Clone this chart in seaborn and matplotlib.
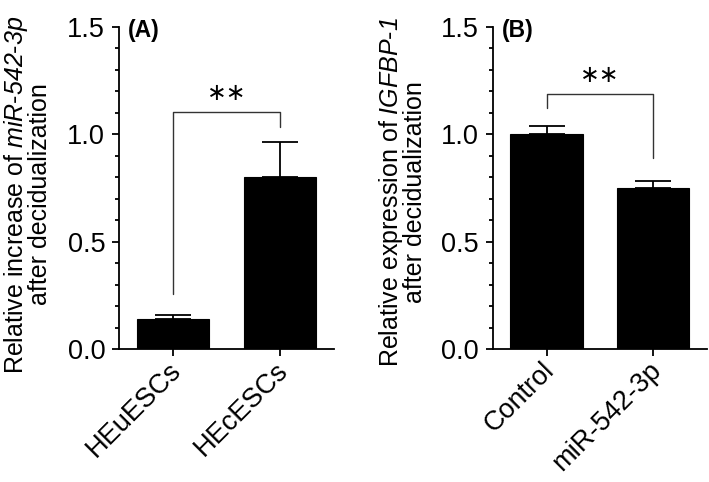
import matplotlib
matplotlib.use("Agg")
import matplotlib.pyplot as plt
import matplotlib.transforms as mtransforms
import seaborn as sns
import pandas as pd
from matplotlib.ticker import MultipleLocator

sns.set_theme(style="ticks")
plt.rcParams['font.family'] = ['Liberation Sans', 'DejaVu Sans']
plt.rcParams['mathtext.fontset'] = 'custom'
plt.rcParams['mathtext.it'] = 'Liberation Sans:italic'
plt.rcParams['mathtext.rm'] = 'Liberation Sans:italic'
for k in ['text.color', 'axes.labelcolor', 'xtick.color', 'ytick.color', 'axes.edgecolor']:
    plt.rcParams[k] = 'black'

# Data
cats_a = ["HEuESCs", "HEcESCs"]
vals_a = [0.138, 0.80]
err_a = [0.020, 0.162]
cats_b = ["Control", "miR-542-3p"]
vals_b = [1.0, 0.748]
err_b = [0.040, 0.034]
yticks = [0.0, 0.5, 1.0, 1.5]

fig = plt.figure(figsize=(7.09, 4.82), dpi=100)
ax_a = fig.add_axes([0.168, 0.276, 0.303, 0.668])
ax_b = fig.add_axes([0.695, 0.276, 0.302, 0.668])

FS = 19.5
LFS = 18
LW = 1.3

def panel(ax, cats, vals, errs, letter, ylabel, lab_xy, bracket, star_y):
    df = pd.DataFrame({"cat": cats, "val": vals})
    sns.barplot(data=df, x="cat", y="val", ax=ax, color="black",
                width=0.68, errorbar=None, saturation=1,
                edgecolor="black", linewidth=0.8)
    ax.errorbar(range(len(cats)), vals, yerr=[[0] * len(vals), errs],
                fmt="none", ecolor="black", elinewidth=LW, capsize=13,
                capthick=LW)
    ax.set_ylim(0, 1.5)
    ax.set_xlim(-0.505, 1.505)
    ax.set_yticks(yticks)
    ax.set_yticklabels([f"{t:.1f}" for t in yticks])
    ax.yaxis.set_minor_locator(MultipleLocator(0.1))
    ax.tick_params(axis="y", which="major", length=5, width=LW, labelsize=FS, pad=5)
    ax.tick_params(axis="y", which="minor", length=3, width=LW)
    ax.tick_params(axis="x", which="major", length=5, width=LW, labelsize=FS, pad=3)
    off = mtransforms.ScaledTranslation(-0.05, 0.025, fig.dpi_scale_trans)
    for lab in ax.get_xticklabels():
        lab.set_rotation(45)
        lab.set_ha("right")
        lab.set_va("top")
        lab.set_rotation_mode("anchor")
        lab.set_transform(lab.get_transform() + off)
    ax.set_xlabel("")
    ax.set_ylabel(ylabel, fontsize=LFS, linespacing=0.9)
    ax.yaxis.set_label_coords(*lab_xy)
    for s in ["top", "right"]:
        ax.spines[s].set_visible(False)
    for s in ["left", "bottom"]:
        ax.spines[s].set_linewidth(LW)
        ax.spines[s].set_color("black")
    ax.text(-0.42, 1.485, letter, fontsize=16.5, fontweight="bold", ha="left", va="center")
    (y0l, y0r, ytop) = bracket
    ax.plot([0, 0, 1, 1], [y0l, ytop, ytop, y0r], color="#333333", lw=1.0)
    ax.text(0.5, star_y, "∗∗", fontsize=17, ha="center", va="center", color="black")

panel(ax_a, cats_a, vals_a, err_a, "(A)",
      "Relative increase of $miR$-$542$-$3p$\nafter decidualization",
      (-0.312, 0.48), (0.255, 1.035, 1.104), 1.19)
panel(ax_b, cats_b, vals_b, err_b, "(B)",
      "Relative expression of $IGFBP$-$1$\nafter decidualization",
      (-0.307, 0.488), (1.122, 0.889, 1.188), 1.27)

fig.savefig("out.png", dpi=100)
